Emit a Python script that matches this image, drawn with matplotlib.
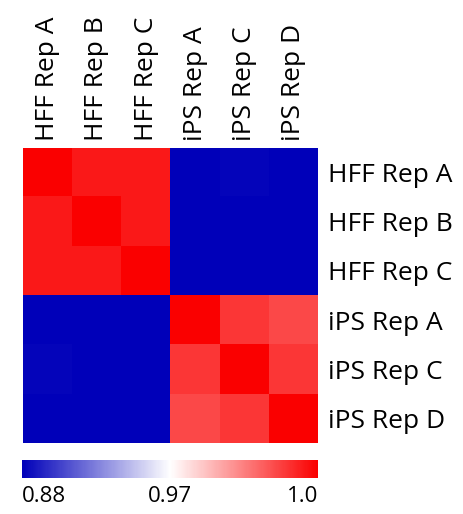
import numpy as np
import matplotlib.pyplot as plt
from matplotlib.colors import LinearSegmentedColormap, TwoSlopeNorm

samples = ["HFF Rep A", "HFF Rep B", "HFF Rep C", "iPS Rep A", "iPS Rep C", "iPS Rep D"]

# correlation values
corr = np.array([
    [1.000, 0.997, 0.997, 0.876, 0.882, 0.880],
    [0.997, 1.000, 0.997, 0.876, 0.877, 0.877],
    [0.997, 0.997, 1.000, 0.876, 0.877, 0.877],
    [0.876, 0.876, 0.876, 1.000, 0.9935, 0.9915],
    [0.882, 0.877, 0.877, 0.9935, 1.000, 0.9935],
    [0.878, 0.877, 0.877, 0.9915, 0.9935, 1.000],
])

cbar_ticks = [0.88, 0.97, 1.0]
cbar_labels = ["0.88", "0.97", "1.0"]

plt.rcParams['font.family'] = ['Open Sans', 'DejaVu Sans']

cmap = LinearSegmentedColormap.from_list("bwr2", ["#0000b9", "#ffffff", "#fa0000"])
norm = TwoSlopeNorm(vmin=0.88, vcenter=0.97, vmax=1.0)

fig = plt.figure(figsize=(4.63, 5.14), dpi=100)
ax = fig.add_axes([0.050, 0.138, 0.637, 0.574])
im = ax.imshow(corr, cmap=cmap, norm=norm, aspect="auto", interpolation="nearest")

ax.set_xticks(range(len(samples)))
ax.set_xticklabels(samples, rotation=90, fontsize=19)
ax.xaxis.tick_top()
ax.set_yticks(range(len(samples)))
ax.set_yticklabels(samples, fontsize=19)
ax.yaxis.tick_right()
ax.tick_params(axis="x", length=0, pad=5)
ax.tick_params(axis="y", length=0, pad=7)
for s in ax.spines.values():
    s.set_visible(False)

cax = fig.add_axes([0.048, 0.070, 0.639, 0.035])
cb = fig.colorbar(im, cax=cax, orientation="horizontal")
cb.set_ticks(cbar_ticks)
cb.set_ticklabels(cbar_labels)
cb.ax.tick_params(length=0, labelsize=16, pad=6)
cb.outline.set_visible(False)
lbls = cb.ax.get_xticklabels()
lbls[0].set_ha("left")
lbls[-1].set_ha("right")

fig.savefig("out.png", dpi=100)
